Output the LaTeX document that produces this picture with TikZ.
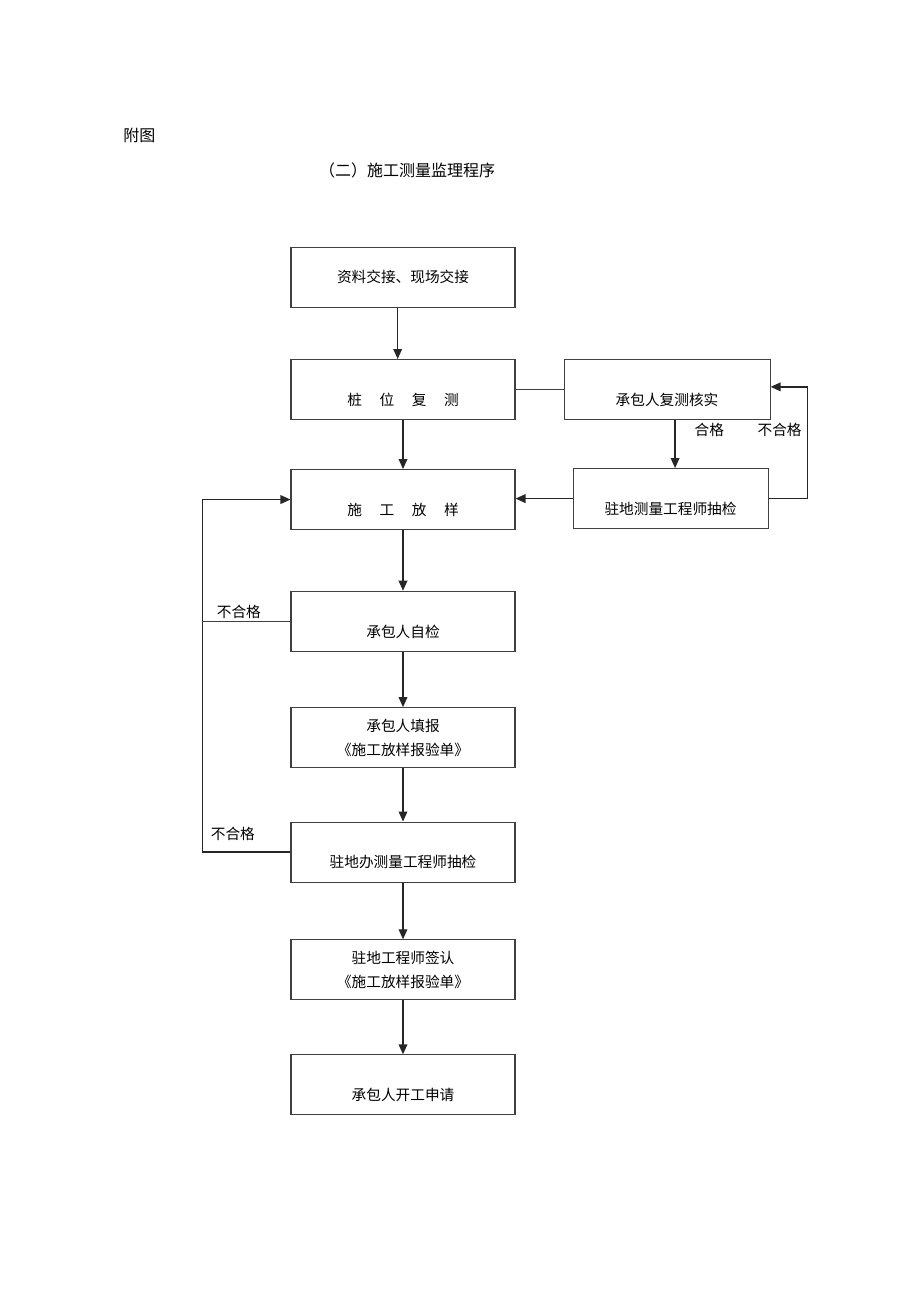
\documentclass[tikz,border=0pt]{standalone}
\usepackage{fontspec}
\setmainfont{Noto Sans CJK SC}
\usetikzlibrary{positioning,arrows.meta}

\begin{document}
\begin{tikzpicture}[
mainbox/.style={rectangle, draw=black!75, line width=0.8pt, minimum width=168pt, minimum height=45pt, inner sep=0pt, align=center, font=\fontsize{11pt}{18pt}\selectfont},
lowbox/.style={mainbox, text height=25pt, text depth=1.3pt},
sidebox/.style={lowbox, minimum width=154.5pt},
tag/.style={inner sep=1pt, font=\fontsize{11pt}{13pt}\selectfont},
flow/.style={-{Triangle[length=7.5pt,width=6.5pt]}, line width=1pt, black!85},
plain/.style={line width=0.9pt, black!75}
]
\useasboundingbox (0,0) rectangle (690pt,-977.25pt);
\node[anchor=west, inner sep=0pt, font=\fontsize{12pt}{14pt}\selectfont] (fig) at (92.25pt,-101.25pt) {附图};
\node[inner sep=0pt, font=\fontsize{12pt}{14pt}\selectfont] (title) at (305.25pt,-127.5pt) {（二）施工测量监理程序};

\node[mainbox, line width=1.1pt] (A) at (302.25pt,-208pt) {资料交接、现场交接};
\node[lowbox] (B) [below=38.2pt of A] {桩\hspace{1.2em}位\hspace{1.2em}复\hspace{1.2em}测};
\node[lowbox] (E) [below=36.7pt of B] {施\hspace{1.2em}工\hspace{1.2em}放\hspace{1.2em}样};
\node[lowbox] (F) [below=45.5pt of E] {承包人自检};
\node[mainbox] (G) [below=41.5pt of F] {承包人填报\\《施工放样报验单》};
\node[lowbox] (H) [below=40pt of G] {驻地办测量工程师抽检};
\node[mainbox] (I) [below=42.5pt of H] {驻地工程师签认\\《施工放样报验单》};
\node[lowbox] (J) [below=40.5pt of I] {承包人开工申请};

\node[sidebox] (C) [right=36pt of B] {承包人复测核实};
\node[sidebox, minimum width=146.25pt] (D) [below=36pt of C, xshift=2.6pt] {驻地测量工程师抽检};

% main column
\draw[flow] ([xshift=-4pt]A.south) -- ([xshift=-4pt]A.south |- B.north);
\draw[flow] (B) -- (E);
\draw[flow] (E) -- (F);
\draw[flow] (F) -- (G);
\draw[flow] (G) -- (H);
\draw[flow] (H) -- (I);
\draw[flow] (I) -- (J);

% right loop
\draw[plain] (B) -- (C);
\draw[flow] ([xshift=6pt]C.south) -- ([xshift=6pt]C.south |- D.north);
\draw[flow] (D.west) -- (D.west -| E.east);
\coordinate (R) at ([xshift=29pt]D.east);
\draw[flow] (D.east) -- (R) |- ([yshift=2pt]C.east);
\coordinate (ngpos) at (C.south -| R);
\node[tag] (ok) [below right=1pt and 19.5pt of C.south] {合格};
\node[tag] (ng1) [below left=1pt and 3pt of ngpos] {不合格};

% left loop
\coordinate (L) at ([xshift=-66pt]H.west);
\draw[flow] (H.west) -- (L) |- (E.west);
\draw[plain] (F.west) -- (F.west -| L);
\node[tag] (ng2) [above left=1pt and 21pt of F.west] {不合格};
\node[tag] (ng3) [above left=7pt and 25.5pt of H.west] {不合格};
\end{tikzpicture}
\end{document}
